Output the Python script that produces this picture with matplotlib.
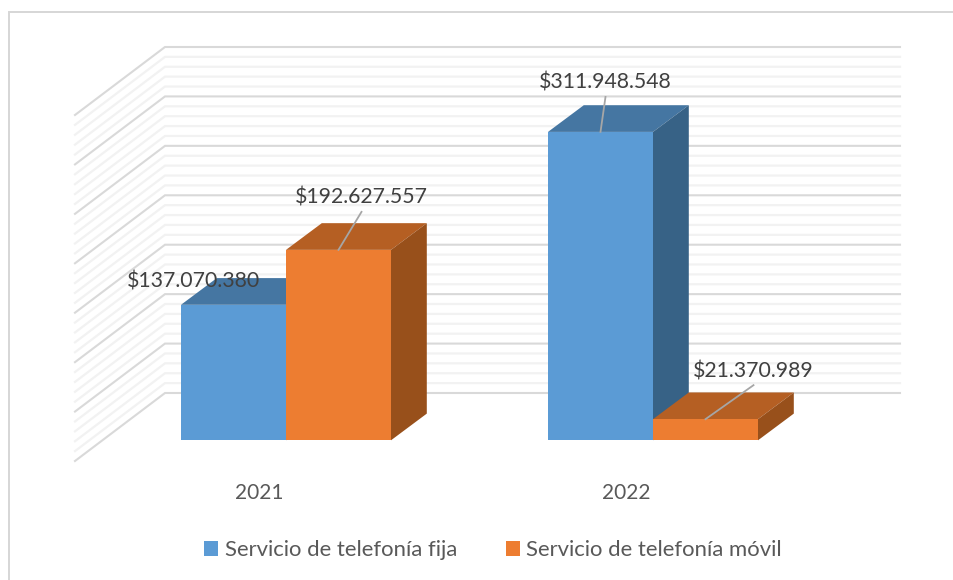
import matplotlib
matplotlib.use("Agg")
import matplotlib.pyplot as plt
from matplotlib.patches import Polygon, Patch

plt.rcParams['font.family'] = ['Lato', 'DejaVu Sans']

# data
years = ['2021', '2022']
series_names = ['Servicio de telefonía fija', 'Servicio de telefonía móvil']
fija = [137070380, 311948548]
movil = [192627557, 21370989]
fija_labels = ['$137.070.380', '$311.948.548']
movil_labels = ['$192.627.557', '$21.370.989']
axis_max = 350000000
major_step = 50000000
minor_step = 10000000

# colours: front, top, side
blue = ['#5B9BD5', '#4576A2', '#376286']
orange = ['#ED7D31', '#B55F23', '#98501B']

W, H = 954, 580
px_y = 0.9886 / 1e6   # pixels per peso
px_x = 367.0          # pixels per category
base_px = 440.3       # where value 0 sits on the bars front plane
first_px = 286.0      # x pixel of first category centre
bar_w = 105.0 / px_x

fig = plt.figure(figsize=(W / 100, H / 100), dpi=100)
ax = fig.add_axes([0, 0, 1, 1])
ax.set_xlim(-first_px / px_x, (W - first_px) / px_x)
ax.set_ylim(-(H - base_px) / px_y, base_px / px_y)
ax.axis('off')


def dx(p):
    return p / px_x


def dy(p):
    return p / px_y


# outer frame, only top and left show in the picture
ax.plot([9 / W, 9 / W, 1], [0, 1 - 11.7 / H, 1 - 11.7 / H], transform=ax.transAxes,
        color='#D6D6D6', lw=1.4, solid_joinstyle='miter', zorder=0)

# back wall and side wall gridlines
wall_x = [(75 - first_px) / px_x, (165 - first_px) / px_x, (900 - first_px) / px_x]
for v in range(0, axis_max + 1, minor_step):
    back = v + dy(47.3)
    major = v % major_step == 0
    ax.plot(wall_x, [back - dy(68), back, back],
            color='#D9D9D9' if major else '#F2F2F2', lw=1.5 if major else 1.6,
            solid_joinstyle='miter', zorder=1 if major else 0.5)


def bar3d(x, v, cols, z):
    # front via the library's bar, depth faces shifted from it
    left = x
    right = x + bar_w
    d_x = dx(35.8)
    d_y = dy(26.7)
    ax.add_patch(Polygon([(left, v), (right, v), (right + d_x, v + d_y), (left + d_x, v + d_y)],
                         fc=cols[1], ec='none', zorder=z))
    ax.add_patch(Polygon([(right, 0), (right + d_x, d_y), (right + d_x, v + d_y), (right, v)],
                         fc=cols[2], ec='none', zorder=z))
    ax.bar(x, v, bar_w, align='edge', color=cols[0], zorder=z + 0.1)


for i in range(len(years)):
    bar3d(i - bar_w, fija[i], blue, 3)
    bar3d(i, movil[i], orange, 4)
    ax.text(i - 27 / px_x, -dy(53), years[i], ha='center', va='center',
            fontsize=15, color='#595959')

# data labels, leader or not, offset of text from top of the bar in px
labels = [
    (0 - bar_w, fija[0], fija_labels[0], False, (-39.5, 23)),
    (0, movil[0], movil_labels[0], True, (23, 52)),
    (1 - bar_w, fija[1], fija_labels[1], True, (5, 49)),
    (1, movil[1], movil_labels[1], True, (48, 48)),
]
for x, v, txt, leader, off in labels:
    mid = x + bar_w * 0.5
    if leader:
        ax.plot([mid, mid + dx(off[0])], [v, v + dy(off[1] - 14)],
                color='#A6A6A6', lw=1.3, zorder=6)
    ax.text(mid + dx(off[0]), v + dy(off[1]), txt, ha='center', va='center',
            fontsize=15.3, color='#404040', zorder=7)

handles = [Patch(fc=blue[0], label=series_names[0]), Patch(fc=orange[0], label=series_names[1])]
ax.legend(handles=handles, ncol=2, loc='center', bbox_to_anchor=(493 / W, 1 - 550 / H),
          frameon=False, fontsize=15.9, labelcolor='#595959', handlelength=0.64, handleheight=0.64,
          handletextpad=0.3, columnspacing=2.2)

fig.savefig('out.png', dpi=100)
